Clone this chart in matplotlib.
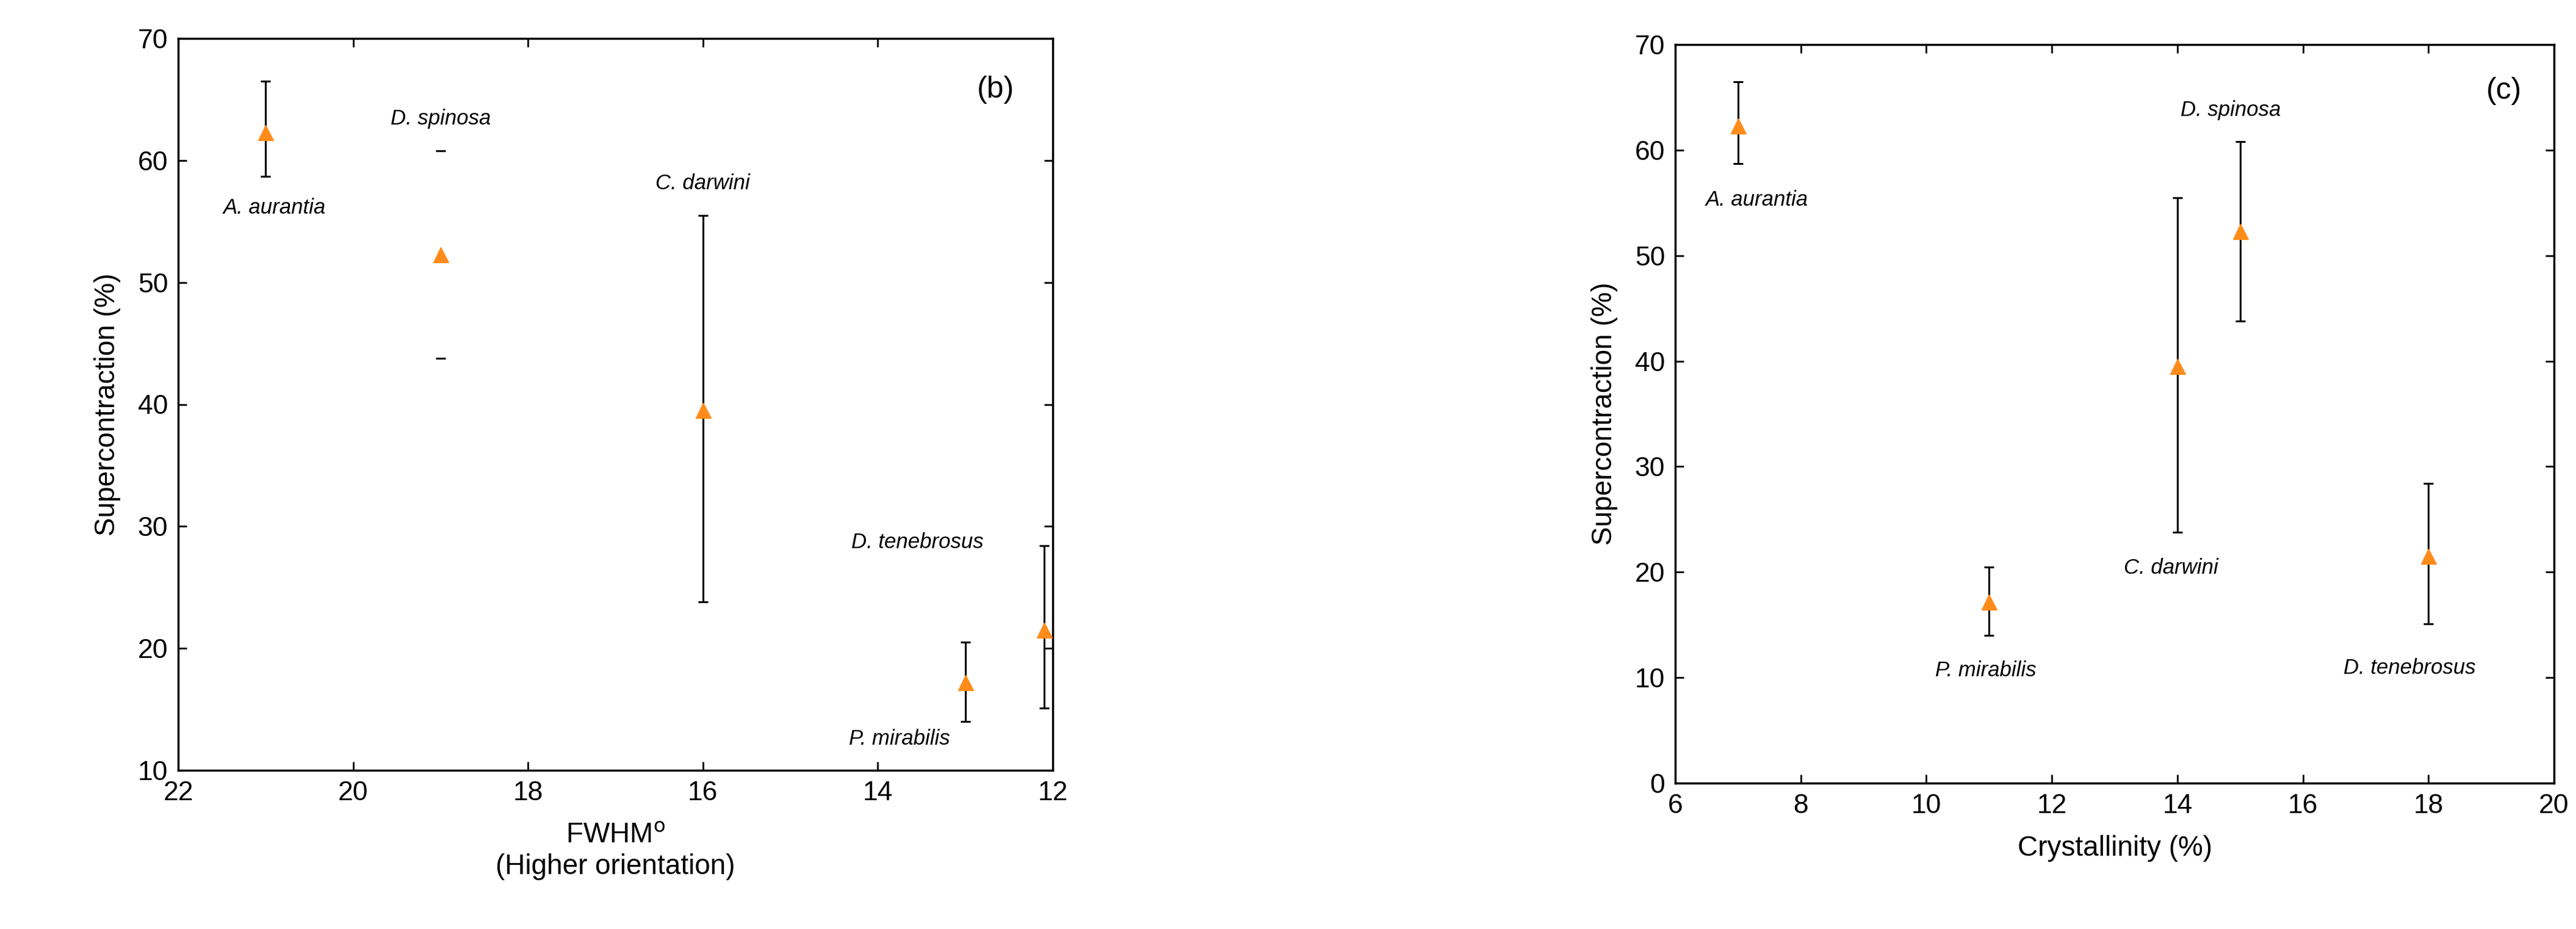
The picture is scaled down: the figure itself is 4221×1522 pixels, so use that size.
import matplotlib
matplotlib.use("Agg")
import matplotlib.pyplot as plt

plt.rcParams['font.family'] = ['Liberation Sans', 'DejaVu Sans']

species = ["A. aurantia", "D. spinosa", "C. darwini", "P. mirabilis", "D. tenebrosus"]
supercon = [62.3, 52.3, 39.5, 17.2, 21.5]
err_low = [58.7, 43.8, 23.8, 14.0, 15.1]
err_high = [66.5, 60.8, 55.5, 20.5, 28.4]
fwhm = [21.0, 19.0, 16.0, 13.0, 12.1]
crystallinity = [7.0, 15.0, 14.0, 11.0, 18.0]

lab_b = [(20.9, 56.1), (19.0, 63.4), (16.0, 58.1), (13.75, 12.6), (13.55, 28.7)]
lab_c = [(7.3, 55.3), (14.85, 63.8), (13.9, 20.4), (10.95, 10.7), (17.7, 10.9)]

fig = plt.figure(figsize=(42.21, 15.22), dpi=100)
axb = fig.add_axes([292/4221, 1-1262/1522, (1725-292)/4221, (1262-63)/1522])
axc = fig.add_axes([2745/4221, 1-1283/1522, (4185-2745)/4221, (1283-73)/1522])

yerr = [[s - l for s, l in zip(supercon, err_low)], [h - s for s, h in zip(supercon, err_high)]]
orange = '#FF8C1A'

def draw(ax, xs, labs, tag, xlim, ylim, xt, yt, xlabel):
    for i in range(len(xs)):
        elw = 0 if (ax is axb and i == 1) else 2.2
        ax.errorbar(xs[i], supercon[i], yerr=[[yerr[0][i]], [yerr[1][i]]], fmt='none',
                    ecolor='black', elinewidth=elw, capsize=6, capthick=2.2, zorder=2)
    ax.plot(xs, supercon, linestyle='none', marker='^', markersize=18, color=orange, zorder=3)
    for name, (lx, ly) in zip(species, labs):
        ax.text(lx, ly, name, ha='center', va='center', fontsize=25, style='italic')
    ax.set_xlim(*xlim)
    ax.set_ylim(*ylim)
    ax.set_xticks(xt)
    ax.set_yticks(yt)
    ax.tick_params(direction='in', length=10, width=2, labelsize=32, top=True, right=True, pad=12)
    for s in ax.spines.values():
        s.set_linewidth(2.5)
    ax.set_ylabel('Supercontraction (%)', fontsize=33, labelpad=20)
    ax.set_xlabel(xlabel, fontsize=33, labelpad=20)
    ax.text(tag[1], tag[2], tag[0], fontsize=36, ha='center', va='center')

draw(axb, fwhm, lab_b, ('(b)', 12.65, 65.8), (22, 12), (10, 70), range(22, 11, -2), range(10, 71, 10),
     'FWHM$^{\\mathrm{o}}$\n(Higher orientation)')
draw(axc, crystallinity, lab_c, ('(c)', 19.2, 65.6), (6, 20), (0, 70), range(6, 21, 2), range(0, 71, 10),
     'Crystallinity (%)')

fig.savefig('out.png', dpi=100)
